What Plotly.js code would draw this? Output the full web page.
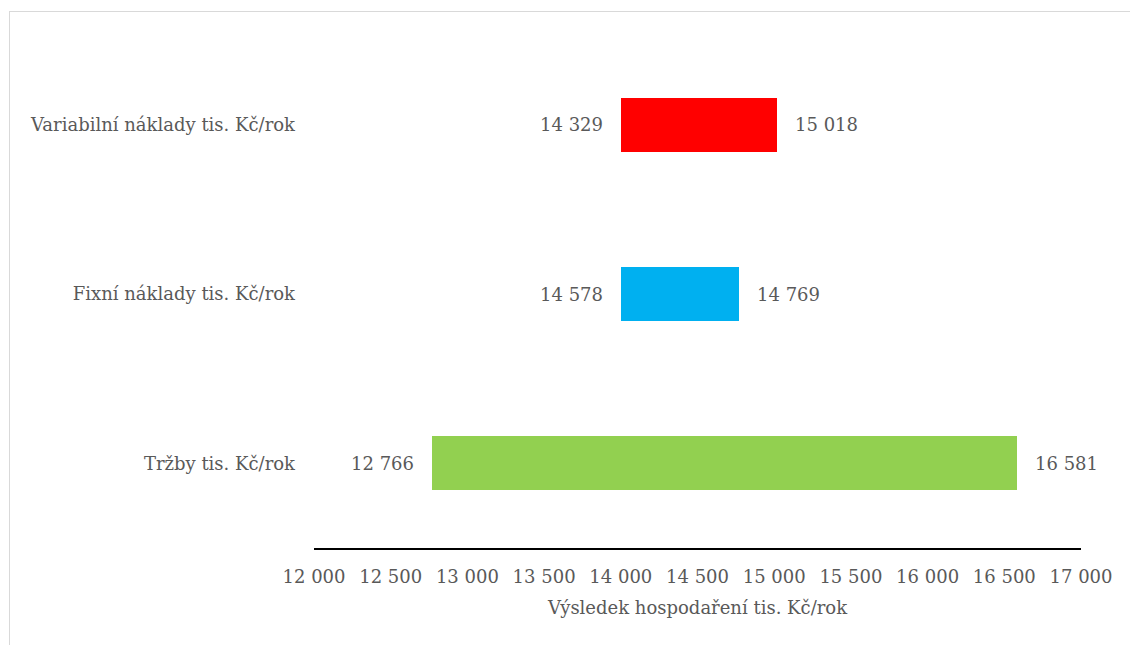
<!DOCTYPE html>
<html>
<head>
<meta charset="utf-8">
<script src="https://cdn.plot.ly/plotly-3.0.1.min.js"></script>
<style>
html,body{margin:0;padding:0;background:#fff;overflow:hidden;}
#frame{position:absolute;left:9px;top:11px;width:1200px;height:700px;border:1px solid #d9d9d9;box-sizing:border-box;}
#chart{position:absolute;left:0;top:0;width:1130px;height:645px;}
#chart .bars path{shape-rendering:crispEdges;}
</style>
</head>
<body>
<div id="frame"></div>
<div id="chart"></div>
<script>
const categories = ["Tržby tis. Kč/rok", "Fixní náklady tis. Kč/rok", "Variabilní náklady tis. Kč/rok"];
const lowValues = [12766, 14578, 14329];
const highValues = [16581, 14769, 15018];
const barColors = ["#92d050", "#00b0f0", "#ff0000"];
const baseValue = 14000;
const xTickValues = [12000, 12500, 13000, 13500, 14000, 14500, 15000, 15500, 16000, 16500, 17000];
const xTickLabels = ["12 000", "12 500", "13 000", "13 500", "14 000", "14 500", "15 000", "15 500", "16 000", "16 500", "17 000"];
const xTitle = "Výsledek hospodaření tis. Kč/rok";

const fmt = v => String(v).replace(/\B(?=(\d{3})+(?!\d))/g, " ");
const FONT = "DejaVu Serif, serif";
const FS = 18;
const GREY = "#595959";

const traces = [
  {type: "bar", orientation: "h", y: categories, x: lowValues.map(v => v - baseValue),
   base: categories.map(() => baseValue), marker: {color: barColors, line: {width: 0}}, width: 0.32,
   hoverinfo: "skip", showlegend: false},
  {type: "bar", orientation: "h", y: categories, x: highValues.map(v => v - baseValue),
   base: categories.map(() => baseValue), marker: {color: barColors, line: {width: 0}}, width: 0.32,
   hoverinfo: "skip", showlegend: false}
];

const annotations = [];
categories.forEach((c, i) => {
  const leftEdge = Math.min(lowValues[i], baseValue);
  const rightEdge = Math.max(highValues[i], baseValue);
  annotations.push({x: leftEdge, y: c, xref: "x", yref: "y", text: fmt(lowValues[i]),
    showarrow: false, xanchor: "right", xshift: -16, font: {family: FONT, size: FS, color: GREY}});
  annotations.push({x: rightEdge, y: c, xref: "x", yref: "y", text: fmt(highValues[i]),
    showarrow: false, xanchor: "left", xshift: 16, font: {family: FONT, size: FS, color: GREY}});
});

const layout = {
  width: 1130, height: 645,
  margin: {l: 314, r: 49, t: 40, b: 97},
  paper_bgcolor: "rgba(0,0,0,0)", plot_bgcolor: "rgba(0,0,0,0)",
  barmode: "overlay",
  font: {family: FONT, size: FS, color: GREY},
  xaxis: {range: [12000, 17000], tickvals: xTickValues, ticktext: xTickLabels,
    showgrid: false, zeroline: false, showline: true, linecolor: "#000", linewidth: 2,
    ticks: "", ticklabelstandoff: 11,
    title: {text: xTitle, font: {family: FONT, size: FS, color: GREY}, standoff: 16}},
  yaxis: {range: [-0.5, 2.5], showgrid: false, zeroline: false, showline: false,
    ticks: "", ticklabelstandoff: 18, fixedrange: true},
  annotations: annotations
};

Plotly.newPlot("chart", traces, layout, {displayModeBar: false, staticPlot: true});
</script>
</body>
</html>
